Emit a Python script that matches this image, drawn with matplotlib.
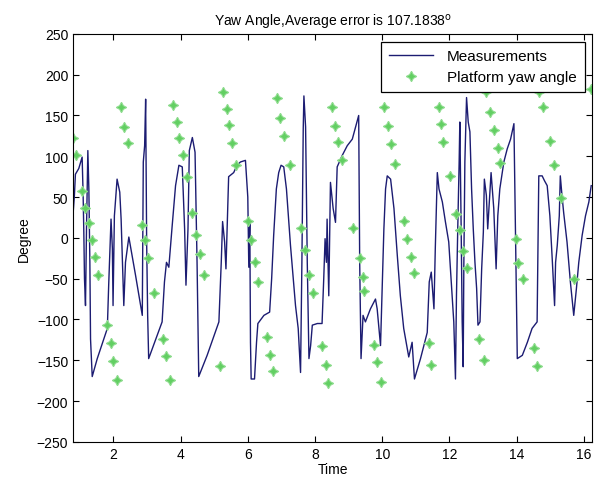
import matplotlib
matplotlib.use("Agg")
import matplotlib.pyplot as plt

plt.rcParams['font.family'] = ['Liberation Sans', 'DejaVu Sans']

meas_t = [0.80, 0.84, 0.87, 0.97, 1.07, 1.10, 1.12, 1.14, 1.17, 1.20, 1.24, 1.27, 1.30, 1.32, 1.37,
          1.52, 1.82, 1.86, 1.91, 1.93, 1.97, 1.99, 2.03, 2.11, 2.19, 2.23, 2.27, 2.31, 2.36, 2.46,
          2.66, 2.86, 2.89, 2.93, 2.96, 2.99, 3.02, 3.05, 3.45, 3.52, 3.58, 3.65, 3.75, 3.85, 3.95,
          4.05, 4.12, 4.16, 4.22, 4.26, 4.35, 4.43, 4.49, 4.54, 4.79, 5.14, 5.21, 5.25, 5.31, 5.35,
          5.39, 5.43, 5.58, 5.68, 5.78, 5.93, 6.00, 6.03, 6.06, 6.08, 6.10, 6.20, 6.26, 6.30, 6.48,
          6.65, 6.71, 6.77, 6.85, 6.92, 6.99, 7.07, 7.15, 7.27, 7.42, 7.50, 7.57, 7.61, 7.65, 7.67,
          7.72, 7.77, 7.82, 7.87, 7.92, 8.07, 8.21, 8.26, 8.30, 8.34, 8.36, 8.41, 8.46, 8.54, 8.61,
          8.66, 8.81, 8.96, 9.11, 9.30, 9.33, 9.37, 9.43, 9.50, 9.65, 9.80, 9.85, 9.95, 10.00, 10.05,
          10.10, 10.15, 10.25, 10.35, 10.45, 10.54, 10.64, 10.79, 10.89, 10.96, 11.14, 11.34, 11.40,
          11.46, 11.54, 11.58, 11.64, 11.69, 11.79, 11.88, 11.98, 12.05, 12.13, 12.18, 12.21, 12.25,
          12.29, 12.31, 12.35, 12.38, 12.41, 12.43, 12.46, 12.51, 12.56, 12.61, 12.66, 12.71, 12.76,
          12.81, 12.85, 12.91, 12.96, 13.01, 13.04, 13.10, 13.14, 13.24, 13.32, 13.39, 13.44, 13.50,
          13.62, 13.72, 13.82, 13.92, 13.97, 14.02, 14.17, 14.32, 14.46, 14.61, 14.66, 14.76, 14.83,
          14.91, 14.99, 15.06, 15.13, 15.16, 15.21, 15.27, 15.30, 15.35, 15.40, 15.50, 15.60, 15.70,
          15.78, 15.85, 15.95, 16.05, 16.15, 16.22]
meas_y = [29, 52, 78, 85, 99, 52, 7, -50, -83, 11, 107, 60, -30, -124, -170,
          -148, -111, -58, -1, 23, -13, -83, 27, 72, 56, 23, -30, -83, -30, 1,
          -46, -95, 93, 113, 170, -5, -95, -148, -103, -54, -30, -36, 15, 64, 89,
          87, 11, -58, 11, 107, 123, 105, -30, -170, -144, -103, -30, 20, -5, -38,
          20, 75, 80, 89, 93, 95, 50, -36, 20, -128, -173, -173, -128, -105, -95,
          -91, -50, 3, 60, 80, 89, 87, 60, -9, -83, -111, -165, -30, 134, 174,
          136, -30, -148, -132, -107, -105, -105, -50, -1, -30, 23, -71, 68, 36, 19,
          87, 101, 113, 121, 150, -30, -148, -95, -103, -87, -75, -87, -132, -62, 11,
          60, 76, 72, 36, -22, -71, -111, -146, -128, -173, -148, -116, -54,
          -42, -87, -13, 80, 60, 44, 20, -5, -50, -103, -173, -71, 15,
          93, 142, 11, -103, -158, -30, 93, 172, 142, 130, 60, 11, -30,
          -62, -107, -103, -38, 7, 72, 52, 11, 80, 36, -38, 27, 60,
          93, 109, 121, 140, -1, -148, -144, -128, -111, -103, 76, 76, 70,
          64, 27, -26, -83, -30, -9, 27, 76, 52, 31, -5, -54, -95,
          -62, -30, 3, 27, 44, 64]

# platform yaw angle (green markers)
plat_t = [0.80, 0.90, 1.07, 1.17, 1.27, 1.37, 1.44, 1.54, 1.82, 1.93, 1.99, 2.11, 2.23, 2.33, 2.44,
          2.86, 2.93, 3.04, 3.22, 3.48, 3.58, 3.68, 3.78, 3.88, 3.95, 4.08, 4.18, 4.35, 4.47, 4.59,
          4.71, 5.17, 5.27, 5.37, 5.45, 5.54, 5.66, 6.00, 6.10, 6.20, 6.30, 6.58, 6.67, 6.75, 6.87,
          6.97, 7.07, 7.27, 7.57, 7.69, 7.83, 7.95, 8.22, 8.32, 8.38, 8.51, 8.61, 8.68, 8.81, 9.14,
          9.33, 9.42, 9.47, 9.77, 9.85, 9.97, 10.05, 10.17, 10.27, 10.37, 10.64, 10.74, 10.86, 10.94,
          11.39, 11.46, 11.69, 11.74, 11.82, 12.03, 12.21, 12.31, 12.41, 12.53, 12.87, 13.02, 13.10,
          13.22, 13.34, 13.44, 13.52, 13.97, 14.04, 14.19, 14.51, 14.61, 14.66, 14.79, 14.99, 15.11,
          15.31, 15.72, 16.20]
plat_y = [123, 102, 57, 37, 18, -3, -23, -46, -107, -129, -151, -174, 161, 136, 116,
          16, -3, -25, -67, -124, -145, -174, 163, 142, 122, 102, 75, 31, 3, -20,
          -46, -157, 179, 158, 138, 116, 89, 21, -3, -30, -54, -122, -144, -163, 172,
          147, 125, 89, 12, -15, -46, -67, -132, -156, -178, 160, 137, 118, 96, 12,
          -25, -48, -65, -131, -152, -177, 161, 137, 115, 91, 21, -1, -23, -43,
          -129, -156, 160, 139, 117, 76, 29, 10, -16, -37, -124, -150, 179,
          154, 132, 110, 92, -2, -31, -51, -135, -157, 179, 161, 119, 89,
          49, -50, 183]

x_ticks = [2, 4, 6, 8, 10, 12, 14, 16]
y_ticks = list(range(-250, 251, 50))

fig = plt.figure(figsize=(5.94, 4.85), dpi=100)
ax = fig.add_axes([0.123, 0.087, 0.874, 0.841])

ax.plot(meas_t, meas_y, color='#1c1c72', lw=1.0, label='Measurements')
ax.plot(plat_t, plat_y, ls='none', marker=(4, 1, 0), ms=7.5, color='#62cf62',
        mec='#8fdc8f', mew=0.8, label='Platform yaw angle')

ax.set_xlim(0.8, 16.25)
ax.set_ylim(-250, 250)
ax.set_xticks(x_ticks)
ax.set_yticks(y_ticks)
ax.tick_params(direction='in', top=True, right=True, labelsize=10, length=4)
ax.set_xlabel('Time', fontsize=10, labelpad=1)
ax.set_ylabel('Degree', fontsize=10)
ax.set_title('Yaw Angle,Average error is 107.1838$^{\\mathrm{o}}$', fontsize=10, pad=6)

leg = ax.legend(loc='upper right', fontsize=11, fancybox=False, framealpha=1,
                edgecolor='black', borderaxespad=0.5, handlelength=2.9,
                labelspacing=0.45, borderpad=0.5, handletextpad=0.9)
leg.get_frame().set_linewidth(0.9)

fig.savefig('out.png', dpi=100)
